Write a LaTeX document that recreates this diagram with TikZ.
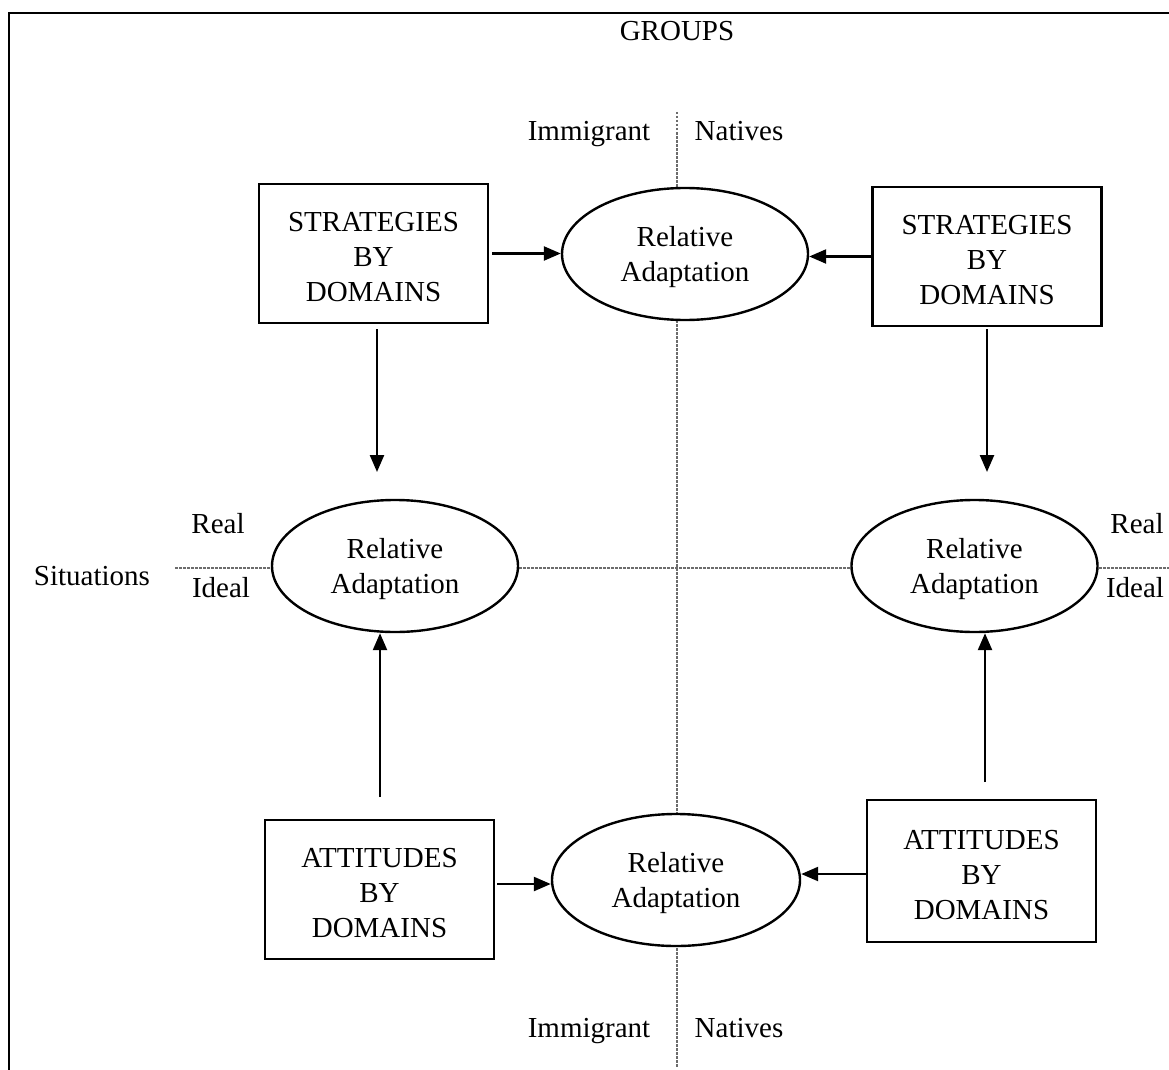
\documentclass[tikz,border=0pt]{standalone}
\usepackage{fontspec}
\setmainfont{Liberation Serif}
\usetikzlibrary{arrows.meta,shapes.geometric}
\newcommand{\toppad}{\rule{0pt}{27pt}}
\begin{document}
\begin{tikzpicture}[x=1pt,y=-1pt,
  every node/.style={font=\fontsize{29}{35}\selectfont},
  box/.style={draw,line width=2.4pt,align=center,inner sep=0pt,minimum width=229pt,minimum height=139pt},
  ell/.style={draw,ellipse,line width=2.4pt,fill=white,align=center,inner sep=0pt,minimum width=246pt,minimum height=132pt},
  lbl/.style={anchor=base,inner sep=0pt},
  arr/.style={line width=2.4pt,-{Triangle[length=17pt,width=14pt]}},
  guide/.style={gray!85!black,line width=1.1pt,dash pattern=on 2.5pt off 1.5pt}]
\useasboundingbox (0,0) rectangle (1169,1070);
% frame
\draw[line width=2.4pt] (9,1070) -- (9,13) -- (1169,13);
% guide lines
\coordinate (vtop) at (677,112);
\coordinate (vbot) at (677,1068);
\coordinate (hl) at (175,568);
\coordinate (hr) at (1169,568);
\draw[guide] (vtop) -- (vbot);
\draw[guide] (hl) -- (hr);
% boxes
\node[box] (tlbox) at (373.5,253.5) {\toppad STRATEGIES\\BY\\DOMAINS};
\node[box] (trbox) at (987,256.5) {\toppad STRATEGIES\\BY\\DOMAINS};
\node[box] (blbox) at (379.5,889.5) {\toppad ATTITUDES\\BY\\DOMAINS};
\node[box,minimum height=142pt] (brbox) at (981.5,871) {\toppad ATTITUDES\\BY\\DOMAINS};
% ellipses
\node[ell] (topell) at (685,254) {\toppad Relative\\Adaptation};
\node[ell] (midl) at (395,566) {\toppad Relative\\Adaptation};
\node[ell] (midr) at (974.5,566) {\toppad Relative\\Adaptation};
\node[ell,minimum width=248pt] (botell) at (676,880) {\toppad Relative\\Adaptation};
% labels
\node[lbl] (groups) at (677,41) {GROUPS};
\node[lbl] (imm1) at (589,140) {Immigrant};
\node[lbl] (nat1) at (739,140) {Natives};
\node[lbl] (imm2) at (589,1037) {Immigrant};
\node[lbl] (nat2) at (739,1037) {Natives};
\node[lbl] (sit) at (92,585) {Situations};
\node[lbl] (real1) at (218,533) {Real};
\node[lbl] (ideal1) at (221,597) {Ideal};
\node[lbl] (real2) at (1137,533) {Real};
\node[lbl] (ideal2) at (1135,597) {Ideal};
% arrows
\draw[arr,shorten <=3pt] (tlbox.east) -- (topell.west |- tlbox.east);
\draw[arr] (trbox.west) -- (topell.east |- trbox.west);
\coordinate (d1) at (377,472);
\coordinate (d2) at (987,472);
\draw[arr,shorten <=5pt] (tlbox.south -| d1) -- (d1);
\draw[arr,shorten <=2pt] (trbox.south -| d2) -- (d2);
\coordinate (u1) at (380,797);
\coordinate (u2) at (985,782);
\draw[arr] (u1) -- (midl.south -| u1);
\draw[arr] (u2) -- (midr.south -| u2);
\path ([yshift=5.5pt]blbox.east) coordinate (b1s);
\path ([yshift=-3pt]brbox.west) coordinate (b2s);
\draw[arr,shorten <=2pt] (b1s) -- (botell.west |- b1s);
\draw[arr] (b2s) -- (botell.east |- b2s);
\end{tikzpicture}
\end{document}
